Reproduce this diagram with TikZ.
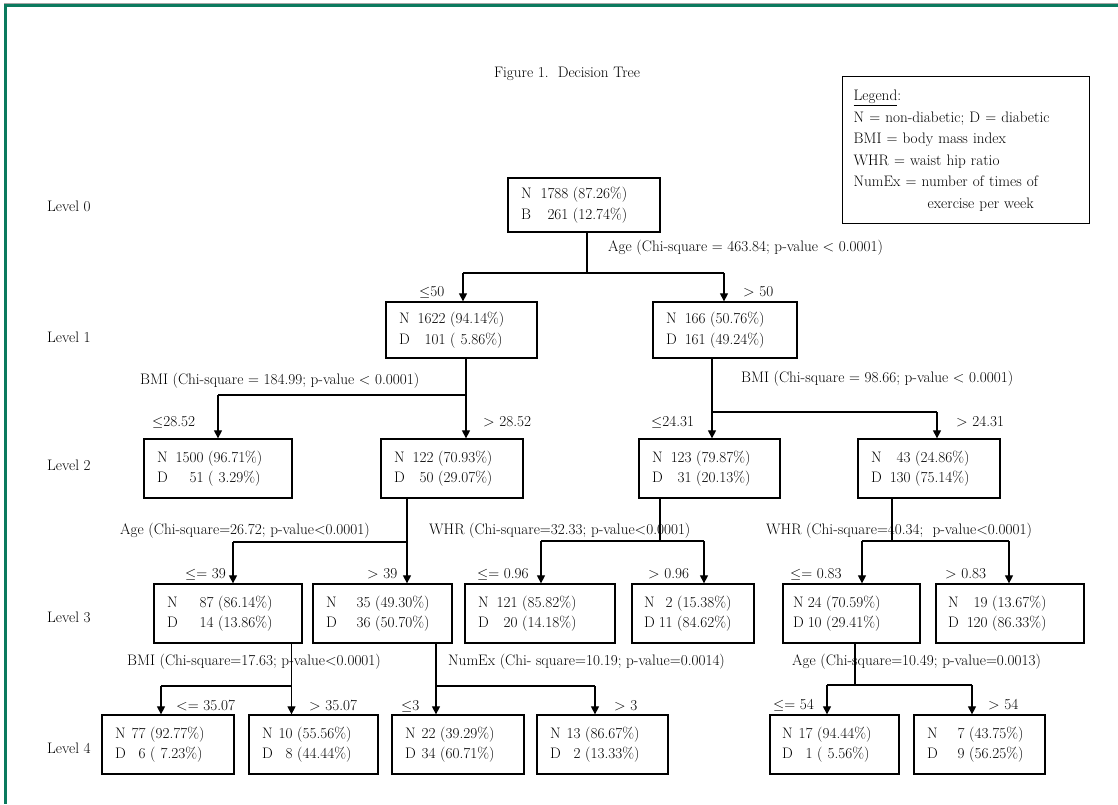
\documentclass[tikz,border=0pt]{standalone}
\usepackage{fontspec}
\usetikzlibrary{arrows.meta}
\definecolor{framegreen}{HTML}{0B7A5E}
\tikzset{
  box/.style={draw, line width=1.3pt, inner xsep=0pt, inner ysep=0pt, align=left},
  lbl/.style={anchor=west, inner sep=0pt},
  conn/.style={line width=1.2pt},
  arr/.style={line width=1.2pt, -{Triangle[width=8pt,length=8pt]}},
}
% [second letter] pad, gap, first letter, n1, p1, n2, p2
\newcommand{\nd}[8][D]{\hspace*{#2}\begin{tabular}{@{}l@{\hspace{#3}}r@{\hspace{4.5pt}}l@{}}#4&#5&(#6\%)\\#1&#7&(#8\%)\end{tabular}}
% parent, px, bar y, left child, lx, right child, rx, id
\newcommand{\tsplit}[8]{%
  \coordinate (#8) at (#2,#3);
  \coordinate (#8l) at (#5,#3);
  \coordinate (#8r) at (#7,#3);
  \draw[conn] (#8 |- #1.south) -- (#8);
  \draw[conn] (#8l) -- (#8r);
  \draw[arr] (#8l) -- (#8l |- #4.north);
  \draw[arr] (#8r) -- (#8r |- #6.north);}
\begin{document}
\begin{tikzpicture}[x=1pt,y=-1pt,font=\fontsize{15.2}{20.5}\selectfont]
\useasboundingbox (0,0) rectangle (1118,804);
\fill[white] (0,0) rectangle (1118,804);
% frame
\fill[black!35] (4,2.5) rectangle (1118,3.5);
\fill[framegreen] (4,3.5) rectangle (1118,7);
\fill[framegreen] (4,3.5) rectangle (7.3,804);

% title
\node[inner sep=0pt] (title) at (567,74) {Figure 1.\ \ Decision Tree};

% legend
\node[box, text width=247pt, minimum height=147pt, anchor=north west, font=\fontsize{15.2}{21.5}\selectfont] (legend) at (842,76)
 {\hspace*{11pt}\begin{tabular}{@{}l@{}}\underline{Legend}:\\
  N = non-diabetic; D = diabetic\\
  BMI = body mass index\\
  WHR = waist hip ratio\\
  NumEx = number of times of\\
  \hspace*{74pt}exercise per week\end{tabular}};

% level labels
\node[lbl] (lv0) at (47,206) {Level 0};
\node[lbl] (lv1) at (47,337) {Level 1};
\node[lbl] (lv2) at (47,465) {Level 2};
\node[lbl] (lv3) at (47,617) {Level 3};
\node[lbl] (lv4) at (47,748) {Level 4};

% boxes
\node[box, text width=152pt, minimum height=54pt] (root) at (584,205) {\nd[B]{13pt}{9pt}{N}{1788}{87.26}{261}{12.74}};
\node[box, text width=151pt, minimum height=56pt] (l1a) at (461.5,330) {\nd{13pt}{8pt}{N}{1622}{94.14}{101}{\ 5.86}};
\node[box, text width=144pt, minimum height=56pt] (l1b) at (725,330) {\nd{13pt}{8pt}{N}{166}{50.76}{161}{49.24}};

\node[box, text width=148pt, minimum height=59pt] (l2a) at (218,468.5) {\nd{13pt}{8pt}{N}{1500}{96.71}{51}{\ 3.29}};
\node[box, text width=142pt, minimum height=59pt] (l2b) at (452,468.5) {\nd{13pt}{8pt}{N}{122}{70.93}{50}{29.07}};
\node[box, text width=141pt, minimum height=59pt] (l2c) at (709.5,468.5) {\nd{13pt}{8pt}{N}{123}{79.87}{31}{20.13}};
\node[box, text width=142pt, minimum height=59pt] (l2d) at (929,468.5) {\nd{13pt}{8pt}{N}{43}{24.86}{130}{75.14}};

\node[box, text width=148pt, minimum height=59pt] (l3a) at (228,613.5) {\nd{13pt}{22pt}{N}{87}{86.14}{14}{13.86}};
\node[box, text width=139pt, minimum height=59pt] (l3b) at (382.5,613.5) {\nd{13pt}{20pt}{N}{35}{49.30}{36}{50.70}};
\node[box, text width=150pt, minimum height=59pt] (l3c) at (540,613.5) {\nd{13pt}{8pt}{N}{121}{85.82}{20}{14.18}};
\node[box, text width=122pt, minimum height=59pt] (l3d) at (693,613.5) {\nd{12pt}{4pt}{N}{2}{15.38}{11}{84.62}};
\node[box, text width=137pt, minimum height=59pt] (l3e) at (851.5,613.5) {\nd{10pt}{4pt}{N}{24}{70.59}{10}{29.41}};
\node[box, text width=148pt, minimum height=59pt] (l3f) at (1010,613.5) {\nd{12pt}{8pt}{N}{19}{13.67}{120}{86.33}};

\node[box, text width=132pt, minimum height=59pt] (l4a) at (168,744.5) {\nd{13pt}{6pt}{N}{77}{92.77}{6}{\ 7.23}};
\node[box, text width=129pt, minimum height=59pt] (l4b) at (313.5,744.5) {\nd{13pt}{6pt}{N}{10}{55.56}{8}{44.44}};
\node[box, text width=132pt, minimum height=59pt] (l4c) at (458,744.5) {\nd{13pt}{6pt}{N}{22}{39.29}{34}{60.71}};
\node[box, text width=131pt, minimum height=59pt] (l4d) at (602.5,744.5) {\nd{13pt}{6pt}{N}{13}{86.67}{2}{13.33}};
\node[box, text width=129pt, minimum height=59pt] (l4e) at (834.5,744.5) {\nd{12pt}{6pt}{N}{17}{94.44}{1}{\ 5.56}};
\node[box, text width=131pt, minimum height=59pt] (l4f) at (979.5,744.5) {\nd{13pt}{20pt}{N}{7}{43.75}{9}{56.25}};

% connectors
\tsplit{root}{587}{273}{l1a}{463}{l1b}{724}{j0}
\tsplit{l1a}{466}{395}{l2a}{218}{l2b}{466}{j1}
\tsplit{l1b}{712}{412}{l2c}{712}{l2d}{937}{j2}
\tsplit{l2b}{407}{542}{l3a}{233}{l3b}{407}{j3}
\tsplit{l2c}{660}{541}{l3c}{541}{l3d}{704}{j4}
\tsplit{l2d}{892}{541}{l3e}{862}{l3f}{1009}{j5}
\tsplit{l3a}{291.5}{686}{l4a}{161}{l4b}{291.5}{j6}
\tsplit{l3b}{436}{686}{l4c}{436}{l4d}{595}{j7}
\tsplit{l3e}{855}{685}{l4e}{827}{l4f}{972}{j8}

% split descriptions
\node[lbl] (t0) at (608,248) {Age (Chi-square = 463.84; p-value < 0.0001)};
\node[lbl] (t1) at (140,381) {BMI (Chi-square = 184.99; p-value < 0.0001)};
\node[lbl] (t2) at (741,379) {BMI (Chi-square = 98.66; p-value < 0.0001)};
\node[lbl] (t3) at (120,531) {Age (Chi-square=26.72; p-value<0.0001)};
\node[lbl] (t4) at (429,531) {WHR (Chi-square=32.33; p-value<0.0001)};
\node[lbl] (t5) at (766,531) {WHR (Chi-square=40.34;\ \ p-value<0.0001)};
\node[lbl] (t6) at (127,662) {BMI (Chi-square=17.63; p-value<0.0001)};
\node[lbl] (t7) at (448,662) {NumEx (Chi- square=10.19; p-value=0.0014)};
\node[lbl] (t8) at (792,662) {Age (Chi-square=10.49; p-value=0.0013)};

% branch conditions
\node[lbl] (c0l) at (419,292) {$\leq$50};
\node[lbl] (c0r) at (743,292) {> 50};
\node[lbl] (c1l) at (152,422) {$\leq$28.52};
\node[lbl] (c1r) at (483,422) {> 28.52};
\node[lbl] (c2l) at (651,422) {$\leq$24.31};
\node[lbl] (c2r) at (956,422) {> 24.31};
\node[lbl] (c3l) at (185,574) {$\leq$= 39};
\node[lbl] (c3r) at (367,574) {> 39};
\node[lbl] (c4l) at (477,574) {$\leq$= 0.96};
\node[lbl] (c4r) at (648,574) {> 0.96};
\node[lbl] (c5l) at (790,574) {$\leq$= 0.83};
\node[lbl] (c5r) at (945,574) {> 0.83};
\node[lbl] (c6l) at (176,706) {<= 35.07};
\node[lbl] (c6r) at (309,706) {> 35.07};
\node[lbl] (c7l) at (401,706) {$\leq$3};
\node[lbl] (c7r) at (614,706) {> 3};
\node[lbl] (c8l) at (773,705) {$\leq$= 54};
\node[lbl] (c8r) at (988,705) {> 54};
\end{tikzpicture}
\end{document}
